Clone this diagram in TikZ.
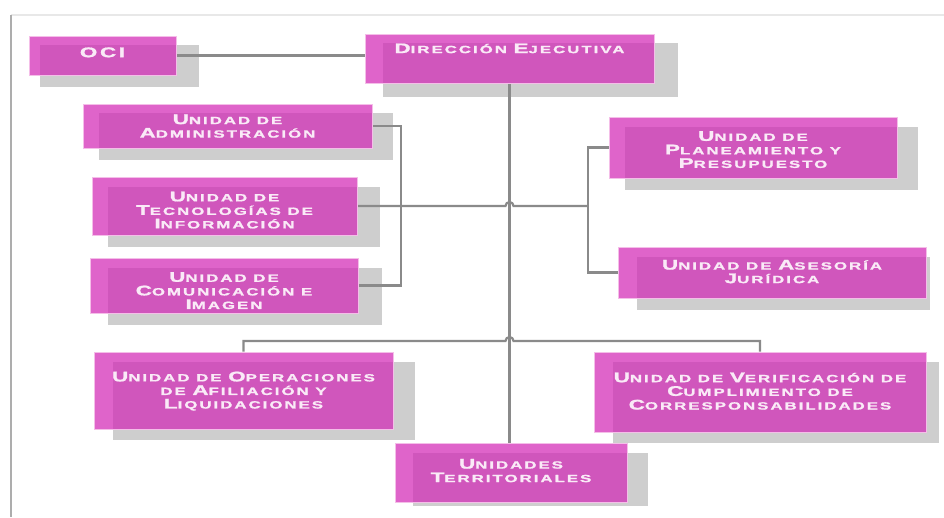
\documentclass[tikz,border=0pt]{standalone}
\usepackage{fontspec}
\usepackage{graphicx}
\usetikzlibrary{calc}
\newfontfamily\cop{Liberation Sans}[LetterSpace=12,FakeBold=1.2]
\newcommand\K[1]{{\fontsize{14}{13}\selectfont #1}}
\newcommand\T[2][0pt]{\raisebox{-#1}[\height][\depth]{\scalebox{1.6}[1]{\begin{tabular}{@{}c@{}}#2\end{tabular}}}}
\definecolor{boxfill}{RGB}{210,40,182}
\definecolor{boxedge}{RGB}{244,190,232}
\definecolor{shadowc}{RGB}{206,206,206}
\definecolor{txtc}{RGB}{250,234,247}
\definecolor{linec}{RGB}{138,138,138}
\pgfdeclarelayer{background}
\pgfdeclarelayer{mid}
\pgfsetlayers{background,mid,main}
\tikzset{
  box/.style={draw=boxedge, line width=0.9pt, fill=boxfill, fill opacity=0.72,
    text opacity=1, text=txtc, align=center, inner sep=0pt,
    font=\cop\bfseries\fontsize{10.5}{13}\selectfont},
  conn/.style={draw=linec, line width=2.2pt},
  shade/.style={fill=shadowc}
}
\begin{document}
\begin{tikzpicture}[x=1pt,y=-1pt]
\useasboundingbox (0,0) rectangle (944,517);
\draw[line width=1.5pt, draw=black!9] (11,15) -- (944,15);
\draw[line width=1.8pt, draw=black!32] (11,15) -- (11,517);

\node[box, minimum width=147, minimum height=39, text height=10pt, text depth=9pt] (oci) at (102.5,55.5) {\T[1pt]{\K{OCI}}};
\node[box, minimum width=289, minimum height=49, text height=10pt, text depth=21pt] (dir) at (509.5,58.5) {\T{\K{D}IRECCIÓN \K{E}JECUTIVA}};
\node[box, minimum width=289, minimum height=44] (adm) at (227.5,126) {\T[2pt]{\K{U}NIDAD DE\\\K{A}DMINISTRACIÓN}};
\node[box, minimum width=265, minimum height=58] (tec) at (224.5,206) {\T[6pt]{\K{U}NIDAD DE\\\K{T}ECNOLOGÍAS DE\\\K{I}NFORMACIÓN}};
\node[box, minimum width=268, minimum height=55] (com) at (224,285.5) {\T[7pt]{\K{U}NIDAD DE\\\K{C}OMUNICACIÓN E\\\K{I}MAGEN}};
\node[box, minimum width=288, minimum height=61] (pla) at (753,147.5) {\T[4pt]{\K{U}NIDAD DE\\\K{P}LANEAMIENTO Y\\\K{P}RESUPUESTO}};
\node[box, minimum width=308, minimum height=51] (ase) at (772,272.5) {\T[1pt]{\K{U}NIDAD DE \K{A}SESORÍA\\\K{J}URÍDICA}};
\node[box, minimum width=299, minimum height=77] (ope) at (243.5,390.5) {\T[1.5pt]{\K{U}NIDAD DE \K{O}PERACIONES\\DE \K{A}FILIACIÓN Y\\\K{L}IQUIDACIONES}};
\node[box, minimum width=332, minimum height=80] (ver) at (760,392) {\T[1pt]{\K{U}NIDAD DE \K{V}ERIFICACIÓN DE\\\K{C}UMPLIMIENTO DE\\\K{C}ORRESPONSABILIDADES}};
\node[box, minimum width=232, minimum height=59] (ter) at (511,472.5) {\T{\K{U}NIDADES\\\K{T}ERRITORIALES}};

\begin{pgfonlayer}{background}
\foreach \n/\a/\b/\c/\d in {oci/11/9/23/12, dir/18/9/24/14, adm/16/9/21/12, tec/16/10/23/12, com/18/10/24/12, pla/16/10/21/12, ase/19/10/4/12, ope/19/10/22/11, ver/19/10/13/11, ter/18/10/21/4}
  \fill[shade] ([xshift=\a pt,yshift=-\b pt]\n.north west) rectangle ([xshift=\c pt,yshift=-\d pt]\n.south east);
\end{pgfonlayer}

\coordinate (lb) at (401,0);
\coordinate (rb) at (588,0);
\coordinate (hb) at (0,341);
\begin{pgfonlayer}{mid}
\draw[conn] (oci.east) -- (oci.east -| dir.west);
\draw[conn] (dir.south) -- (dir.south |- ter.north);
\draw[conn] (adm.east) -- (adm.east -| lb) -- (com.east -| lb) -- (com.east);
\draw[conn] (tec.east) -- ($(tec.east -| dir.south)+(-4,0)$) arc[start angle=180,end angle=360,radius=4] -- (tec.east -| rb);
\draw[conn] (pla.west) -- (pla.west -| rb) -- (ase.west -| rb) -- (ase.west);
\draw[conn] (ope.north) -- (ope.north |- hb) -- ($(dir.south |- hb)+(-4,0)$) arc[start angle=180,end angle=360,radius=4] -- (ver.north |- hb) -- (ver.north);
\end{pgfonlayer}
\end{tikzpicture}
\end{document}
